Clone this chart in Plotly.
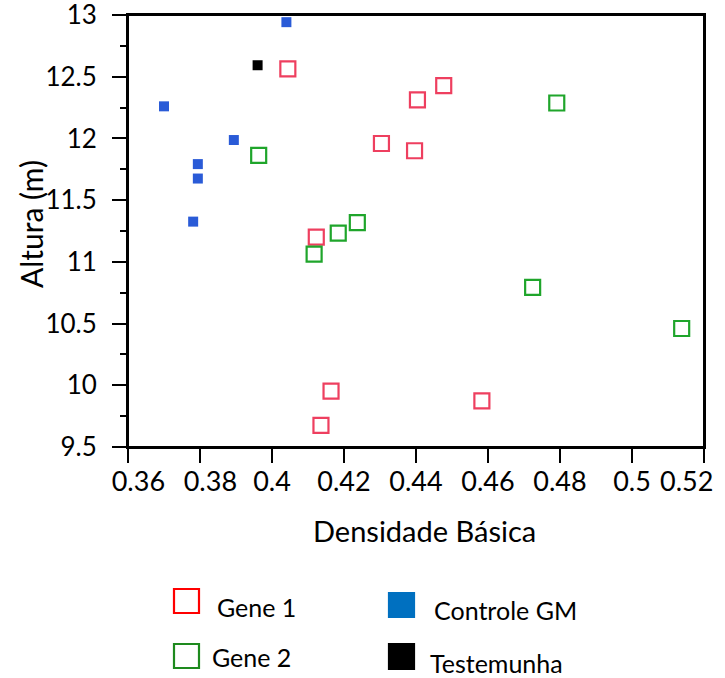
import plotly.graph_objects as go

# ---- data ----
gene1_x = [0.4044, 0.4477, 0.4404, 0.4304, 0.4396, 0.4123, 0.4164, 0.4136, 0.4583]
gene1_y = [12.563, 12.428, 12.312, 11.959, 11.900, 11.200, 9.952, 9.676, 9.873]

gene2_x = [0.3963, 0.4237, 0.4184, 0.4117, 0.4791, 0.4724, 0.5138]
gene2_y = [11.862, 11.318, 11.232, 11.062, 12.287, 10.794, 10.460]

controle_x = [0.4040, 0.3700, 0.3894, 0.3794, 0.3794, 0.3781]
controle_y = [12.942, 12.260, 11.987, 11.792, 11.675, 11.326]

testemunha_x = [0.3960]
testemunha_y = [12.593]

x_ticks = [0.36, 0.38, 0.40, 0.42, 0.44, 0.46, 0.48, 0.50, 0.52]
x_labels = ["0.36", "0.38", "0.4", "0.42", "0.44", "0.46", "0.48", "0.5", "0.52"]
y_ticks = [9.5, 10, 10.5, 11, 11.5, 12, 12.5, 13]
y_labels = ["9.5", "10", "10.5", "11", "11.5", "12", "12.5", "13"]

legend_names = ["Gene 1", "Gene 2", "Controle GM", "Testemunha"]
x_title = "Densidade Básica"
y_title = "Altura (m)"

FONT = "Lato"
W, H = 725, 678
ML, MR, MT, MB = 128, 21, 15, 231
PW, PH = W - ML - MR, H - MT - MB

fig = go.Figure()
fig.add_trace(go.Scatter(x=gene1_x, y=gene1_y, mode="markers", name=legend_names[0],
                         marker=dict(symbol="square-open", size=15, color="#EE3F5F",
                                     line=dict(width=2.2, color="#EE3F5F"))))
fig.add_trace(go.Scatter(x=gene2_x, y=gene2_y, mode="markers", name=legend_names[1],
                         marker=dict(symbol="square-open", size=15, color="#1FA52B",
                                     line=dict(width=2.2, color="#1FA52B"))))
fig.add_trace(go.Scatter(x=controle_x, y=controle_y, mode="markers", name=legend_names[2],
                         marker=dict(symbol="square", size=10, color="#2A5BD7",
                                     line=dict(width=0))))
fig.add_trace(go.Scatter(x=testemunha_x, y=testemunha_y, mode="markers", name=legend_names[3],
                         marker=dict(symbol="square", size=10, color="#000000",
                                     line=dict(width=0))))


def px_x(px):
    return (px - ML) / PW


def px_y(py):
    return (H - MB - py) / PH


# edge labels are nudged inward (as in the reference) with non-breaking-space padding
NB = "\u00a0"
x_text = list(x_labels)
x_text[0] = NB * 3 + x_text[0]
x_text[1] = NB * 3 + x_text[1]
x_text[-1] = x_text[-1] + NB * 5

# custom legend (2 x 2 layout as in the reference)
legend_items = [
    # (swatch x0, y0, x1, y1, fill, line color, text x, text y)
    (174, 589, 199, 613, "rgba(0,0,0,0)", "#FF0000", 215, 607),
    (174, 644, 199, 668, "rgba(0,0,0,0)", "#1E8A1E", 210, 657),
    (389, 593, 414, 617, "#0070C0", "#0070C0", 432, 610),
    (389, 644, 414, 669, "#000000", "#000000", 428, 663),
]
shapes = []
annotations = []
for (x0, y0, x1, y1, fill, lc, tx, ty), name in zip(legend_items, legend_names):
    shapes.append(dict(type="rect", xref="paper", yref="paper",
                       x0=px_x(x0), x1=px_x(x1), y0=px_y(y1), y1=px_y(y0),
                       fillcolor=fill, line=dict(color=lc, width=2.2)))
    annotations.append(dict(xref="paper", yref="paper", x=px_x(tx), y=px_y(ty),
                            text=name, showarrow=False, xanchor="left", yanchor="middle",
                            font=dict(family=FONT, size=25, color="black")))

# axis titles placed as in the reference
annotations.append(dict(xref="paper", yref="paper", x=px_x(31), y=px_y(224),
                        text=y_title, textangle=-90, showarrow=False,
                        xanchor="center", yanchor="middle",
                        font=dict(family=FONT, size=30, color="black")))
annotations.append(dict(xref="paper", yref="paper", x=px_x(424), y=px_y(530),
                        text=x_title, showarrow=False,
                        xanchor="center", yanchor="middle",
                        font=dict(family=FONT, size=29, color="black")))

# frame on top/right (mirrored axis lines)
shapes.append(dict(type="rect", xref="paper", yref="paper", x0=0, x1=1, y0=0, y1=1,
                   line=dict(color="black", width=2), fillcolor="rgba(0,0,0,0)", layer="above"))

fig.update_layout(
    width=W, height=H,
    margin=dict(l=ML, r=MR, t=MT, b=MB, autoexpand=False),
    paper_bgcolor="white", plot_bgcolor="white",
    showlegend=False,
    shapes=shapes, annotations=annotations,
    font=dict(family=FONT, color="black"),
)
fig.update_xaxes(
    range=[0.36, 0.52], tickvals=x_ticks, ticktext=x_text, tickangle=0,
    showgrid=False, zeroline=False, automargin=False,
    showline=True, linecolor="black", linewidth=2, mirror=True,
    ticks="outside", ticklen=14, tickwidth=2, tickcolor="black",
    tickfont=dict(family=FONT, size=27, color="black"),
    ticklabeloverflow="allow",
    ticklabelstandoff=-4,
)
fig.update_yaxes(
    range=[9.5, 13], tickvals=y_ticks, ticktext=y_labels,
    showgrid=False, zeroline=False, automargin=False,
    showline=True, linecolor="black", linewidth=2, mirror=True,
    ticks="outside", ticklen=14, tickwidth=2, tickcolor="black",
    minor=dict(dtick=0.25, ticks="outside", ticklen=6, tickwidth=2, tickcolor="black", showgrid=False),
    tickfont=dict(family=FONT, size=26, color="black"),
    ticklabeloverflow="allow",
    ticklabelstandoff=10,
)

fig.write_html("out.html", config={"displayModeBar": False},
               post_script="document.body.style.margin='0';document.body.style.padding='0';")
